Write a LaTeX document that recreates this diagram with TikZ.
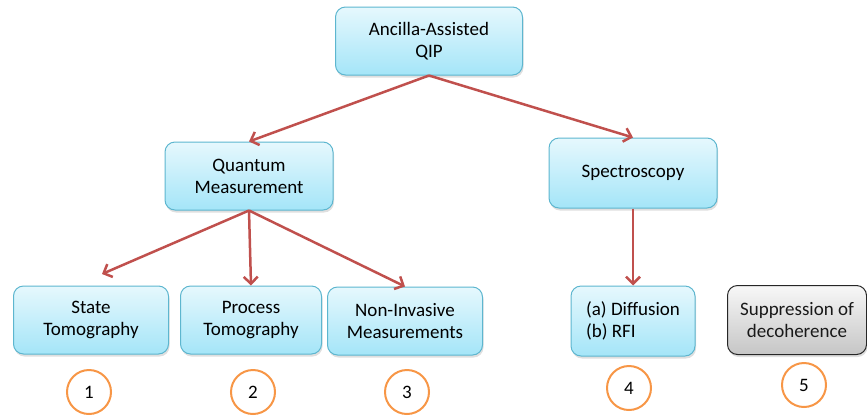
\documentclass[tikz,border=0pt]{standalone}
\usepackage{fontspec}
\setmainfont{Carlito}
\usetikzlibrary{positioning, shadows, arrows.meta}

\definecolor{boxtop}{HTML}{E6F8FD}
\definecolor{boxbot}{HTML}{A4E5F8}
\definecolor{boxline}{HTML}{5DB6CF}
\definecolor{arrowred}{HTML}{C0504D}
\definecolor{numorange}{HTML}{F79646}

\begin{document}
\begin{tikzpicture}[x=1pt, y=-1pt,
  every node/.style={align=center, font=\fontsize{19}{22}\selectfont},
  topic/.style={rectangle, rounded corners=10pt, draw=boxline, line width=1pt, top color=boxtop, bottom color=boxbot, minimum height=68pt, drop shadow={shadow xshift=1pt, shadow yshift=-2.5pt, opacity=0.25}},
  grey/.style={rectangle, rounded corners=10pt, draw=black!85, line width=1pt, top color=gray!6, bottom color=gray!45, minimum height=69pt, text=black!90, drop shadow={shadow xshift=1pt, shadow yshift=-2.5pt, opacity=0.25}},
  number/.style={circle, draw=numorange, line width=2pt, minimum size=44pt, inner sep=0pt},
  link/.style={draw=arrowred, line width=2.5pt, -{Straight Barb[length=7pt, width=14pt]}}
]
\useasboundingbox (0,0) rectangle (867,416);

% Top
\node[topic, minimum width=187pt] (qip) at (429,41) {Ancilla-Assisted\\QIP};

% Middle
\node[topic, minimum width=168pt] (qm) at (249,176) {Quantum\\Measurement};
\node[topic, minimum width=168pt, minimum height=70pt] (spec) at (633,173) {Spectroscopy};

% Bottom
\node[topic, minimum width=155pt] (state) at (91,320) {State\\Tomography};
\node[topic, minimum width=141pt] (process) at (251,320) {Process\\Tomography};
\node[topic, minimum width=155pt] (noninv) at (405,321) {Non-Invasive\\Measurements};
\node[topic, minimum width=124pt, minimum height=70pt, align=left] (diff) at (633,321) {(a) Diffusion\\(b) RFI};
\node[grey, minimum width=139pt] (supp) at (797,320) {Suppression of\\decoherence};

% Numbers
\node[number] (n1) at (89,392) {1};
\node[number] (n2) at (253,392) {2};
\node[number] (n3) at (407,392) {3};
\node[number] (n4) at (629,388) {4};
\node[number] (n5) at (804,385) {5};

% Arrows
\coordinate (statein) at (102,274);
\draw[link] (qip.south) -- (qm.north);
\draw[link] (qip.south) -- (spec.north);
\draw[link] (qm.south) -- (statein);
\draw[link] (qm.south) -- (process.north);
\draw[link] (qm.south) -- (noninv.north);
\draw[link] (spec.south) -- (diff.north);

\end{tikzpicture}
\end{document}
